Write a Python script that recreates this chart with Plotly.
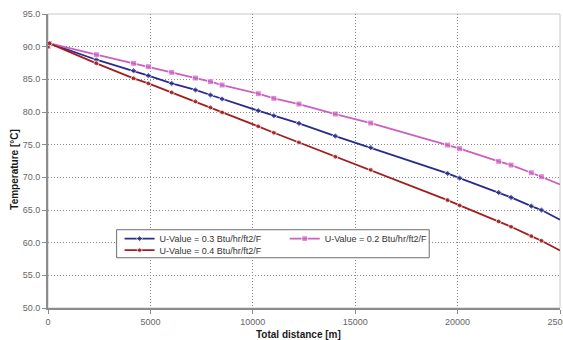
import plotly.graph_objects as go

# ---- data ----
distance_m = [0, 75, 2360, 4180, 4900, 6040, 7200, 7935, 8500, 10265, 11030,
              12255, 14030, 15760, 19510, 20100, 22005, 22610, 23600, 24095, 25000]
temp_u03 = [90.0, 90.5, 88.0, 86.32, 85.56, 84.38, 83.37, 82.6, 81.99, 80.2, 79.43,
            78.26, 76.32, 74.55, 70.6, 69.89, 67.69, 66.92, 65.6, 64.99, 63.5]
temp_u02 = [90.0, 90.5, 88.77, 87.45, 86.94, 86.07, 85.2, 84.64, 84.13, 82.8, 82.09,
            81.22, 79.69, 78.31, 74.94, 74.38, 72.44, 71.88, 70.7, 70.09, 68.9]
temp_u04 = [90.0, 90.5, 87.45, 85.15, 84.38, 83.0, 81.62, 80.7, 79.94, 77.8, 76.83,
            75.35, 73.15, 71.16, 66.52, 65.7, 63.25, 62.44, 61.0, 60.3, 58.8]
series_names = ["U-Value = 0.3 Btu/hr/ft2/F",
                "U-Value = 0.2 Btu/hr/ft2/F",
                "U-Value = 0.4 Btu/hr/ft2/F"]
x_ticks = [0, 5000, 10000, 15000, 20000, 25000]
y_ticks = [50, 55, 60, 65, 70, 75, 80, 85, 90, 95]

FONT = "Liberation Sans, Arial, sans-serif"
n = len(distance_m)

def sizes(s):
    return [s] * (n - 1) + [0]

fig = go.Figure()
fig.add_trace(go.Scatter(
    x=distance_m, y=temp_u03, name=series_names[0], mode="lines+markers",
    line=dict(color="#2b2b8c", width=1.8),
    marker=dict(symbol="diamond", size=sizes(5), color="#2b2b8c"),
    legend="legend", showlegend=True))
fig.add_trace(go.Scatter(
    x=distance_m, y=temp_u02, name=series_names[1], mode="lines+markers",
    line=dict(color="#cc5fbf", width=1.8),
    marker=dict(symbol="square", size=sizes(6), color="#cc5fbf"),
    legend="legend2", showlegend=True))
fig.add_trace(go.Scatter(
    x=distance_m, y=temp_u04, name=series_names[2], mode="lines+markers",
    line=dict(color="#a01f1f", width=1.8),
    marker=dict(symbol="circle", size=sizes(5), color="#a01f1f"),
    legend="legend3", showlegend=True))

grid_color = "#8a8a8a"
axis_color = "#8c8c8c"

legend_common = dict(xanchor="left", yanchor="middle", bgcolor="rgba(0,0,0,0)",
                     borderwidth=0, font=dict(family=FONT, size=9, color="#333333"))

fig.update_layout(
    width=563, height=340,
    showlegend=True,
    margin=dict(l=48, r=3, t=14, b=32, autoexpand=False),
    paper_bgcolor="white", plot_bgcolor="white",
    font=dict(family=FONT, size=9, color="#595959"),
    legend=dict(x=0.1398, y=0.236, **legend_common),
    legend2=dict(x=0.4624, y=0.236, **legend_common),
    legend3=dict(x=0.1398, y=0.1966, **legend_common),
    xaxis=dict(
        range=[0, 25000], tickvals=x_ticks, tickformat="d",
        showgrid=True, gridcolor=grid_color, griddash="1px,2px", gridwidth=1,
        showline=True, linecolor=axis_color, linewidth=2,
        ticks="outside", ticklen=4, tickcolor=axis_color,
        zeroline=False, tickfont=dict(size=9, color="#666666"),
        ticklabeloverflow="allow",
    ),
    yaxis=dict(
        range=[50, 95], tickvals=y_ticks, tickformat=".1f",
        showgrid=True, gridcolor=grid_color, griddash="1px,2px", gridwidth=1,
        showline=True, linecolor=axis_color, linewidth=2,
        ticks="outside", ticklen=4, tickcolor=axis_color,
        zeroline=False, tickfont=dict(size=9, color="#666666"),
    ),
    shapes=[
        dict(type="rect", xref="paper", yref="paper", x0=0, x1=1, y0=0, y1=1,
             line=dict(color="#c8c8c8", width=1), layer="below"),
        dict(type="rect", xref="x", yref="y", x0=3351, x1=18614, y0=57.69, y1=61.98,
             line=dict(color="#6e6e6e", width=1), fillcolor="white", layer="between"),
    ],
    annotations=[
        dict(text="<b>Total distance [m]</b>", xref="paper", yref="paper",
             x=0.49, y=-0.0895, xanchor="center", yanchor="middle", showarrow=False,
             font=dict(family=FONT, size=10, color="#1a1a1a")),
        dict(text="<b>Temperature [°C]</b>", xref="paper", yref="paper",
             x=-0.0655, y=0.472, xanchor="center", yanchor="middle", showarrow=False,
             textangle=-90, font=dict(family=FONT, size=10, color="#1a1a1a")),
    ],
)

fig.write_html(
    "out.html",
    config={"displayModeBar": False},
    post_script="document.body.style.margin='0';document.body.style.overflow='hidden';",
)
